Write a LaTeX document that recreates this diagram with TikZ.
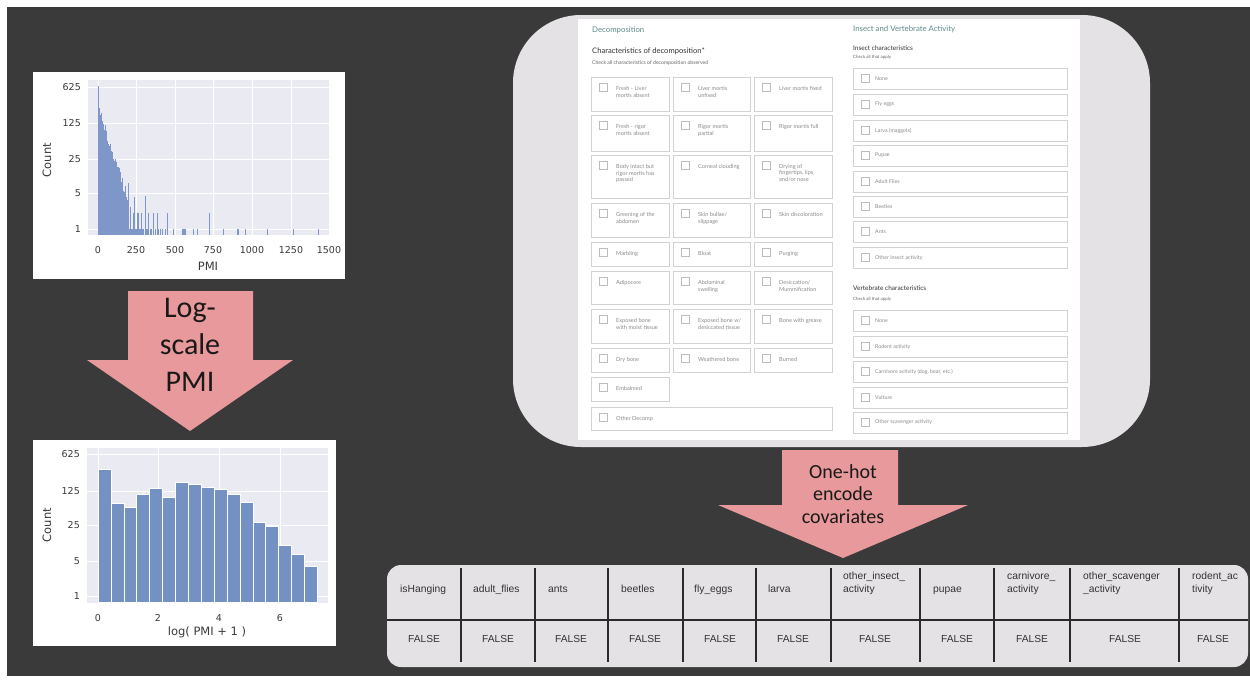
\documentclass[tikz,border=0pt]{standalone}
\usepackage{fontspec}
\setmainfont{Liberation Sans}
\newfontfamily\histfont{DejaVu Sans}
\newfontfamily\arrowfont{Carlito}
\newfontfamily\formfont{Lato}
\newfontfamily\tabfont{Liberation Sans}
\definecolor{bgdark}{HTML}{3A3A3A}
\definecolor{panelc}{HTML}{E5E2E5}
\definecolor{plotbg}{HTML}{EAEAF2}
\definecolor{barone}{HTML}{7F97C8}
\definecolor{bartwo}{HTML}{7491C3}
\definecolor{pinkar}{HTML}{E8999B}
\definecolor{tealc}{HTML}{5E8C8A}
\definecolor{boxline}{HTML}{D2D2D2}
\definecolor{chkline}{HTML}{BDBDBD}
\definecolor{boxtxt}{HTML}{8A8A8A}
\definecolor{tickcol}{HTML}{3A3A3A}
\definecolor{tabline}{HTML}{2A2A2A}
\definecolor{tabtxt}{HTML}{333333}

\newcommand\decobox[6]{%
  \draw[fbx] (#2,#3) rectangle (#4,#5);
  \draw[chk] ({#2+8},{#3+6}) rectangle ({#2+16},{#3+14});
  \node[dtxt] (#1) at ({#2+25},{#3+9}) {#6};
}
\newcommand\insbox[3]{%
  \draw[fbx] (853,#2) rectangle (1067,{#2+21});
  \draw[chk] (861,{#2+6.5}) rectangle (869,{#2+14.5});
  \node[itxt] (#1) at (875,{#2+10.5}) {#3};
}

\begin{document}
\begin{tikzpicture}[x=1pt,y=-1pt,
  gridl/.style={white, line width=0.8},
  ytick/.style={anchor=east, inner sep=0, text=tickcol, font=\histfont\fontsize{9.5}{11}\selectfont},
  xtick/.style={anchor=center, inner sep=0, text=tickcol, font=\histfont\fontsize{9.5}{11}\selectfont},
  axlab/.style={anchor=center, inner sep=0, text=tickcol, font=\histfont\fontsize{11.5}{13}\selectfont},
  atxt/.style={align=center, inner sep=0, text=black!90, font=\arrowfont\fontsize{30}{37}\selectfont},
  btxt/.style={align=center, inner sep=0, text=black!90, font=\arrowfont\fontsize{20}{22.5}\selectfont},
  fbx/.style={draw=boxline, line width=0.5, fill=white},
  chk/.style={draw=chkline, line width=0.5},
  dtxt/.style={anchor=north west, align=left, inner sep=0, text=boxtxt, font=\formfont\fontsize{5.6}{6.7}\selectfont},
  itxt/.style={anchor=west, inner sep=0, text=boxtxt, font=\formfont\fontsize{5.3}{6}\selectfont},
  fhead/.style={anchor=west, inner sep=0, text=tealc, font=\formfont\fontsize{7.8}{9}\selectfont},
  fsub/.style={anchor=west, inner sep=0, text=black!80, font=\formfont\fontsize{6.5}{8}\selectfont},
  fsubbig/.style={fsub, font=\formfont\fontsize{7.6}{9}\selectfont},
  fnote/.style={anchor=west, inner sep=0, text=black!60, font=\formfont\fontsize{4.4}{5}\selectfont},
  fnotebig/.style={fnote, font=\formfont\fontsize{5.1}{6}\selectfont},
  thead/.style={anchor=base west, align=left, inner sep=0, text=tabtxt, font=\tabfont\fontsize{10.3}{13}\selectfont},
  tval/.style={anchor=center, inner sep=0, text=tabtxt, font=\tabfont\fontsize{10.2}{12}\selectfont},
  tline/.style={draw=tabline, line width=1.2}
]
\useasboundingbox (0,0) rectangle (1250,683);
\fill[white] (0,0) rectangle (1250,683);
\fill[bgdark] (7,7) rectangle (1250,676);

% ---------- histogram 1 ----------
\fill[white] (33,72) rectangle (345,279);
\fill[plotbg] (88,80) rectangle (330,235);
\foreach \y in {87,123,159,193,229} \draw[gridl] (88,\y) -- (330,\y);
\foreach \x in {98,136,175,213,252,291,329} \draw[gridl] (\x,80) -- (\x,235);
\fill[barone] (97.5,235) rectangle (98.5,86);
\fill[barone] (98.5,235) rectangle (99.5,108);
\pgfmathsetseed{42}
\foreach \t in {2,...,29}{%
  \pgfmathsetmacro\tp{107.7+3.09*\t+6*rand}
  \fill[barone] ({97.5+\t},235) rectangle ({98.5+\t},\tp);
}
\foreach \x/\tp in {128/183,129/229,130/207,131/229,132/229,133/213,134/197,135/229,136/229,137/213,138/213,139/229,140/229,141/213,142/229,143/229,145/196,146/229,147/229,148/213,150/229,151/229,153/213,155/229,157/213,158/229,160/229,162/229,165/229,167/213,173/229,182/229,183/229,184/229,185/229,193/229,197/229,209/213,223/229,237/229,238/229,245/229,267/229,293/229,318/229}
  \fill[barone] ({\x-0.5},235) rectangle ({\x+0.5},\tp);
\foreach \y/\l in {87/625,123/125,159/25,193/5,229/1} \node[ytick] at (81,\y) {\l};
\foreach \x/\l in {98/0,136/250,175/500,213/750,252/1000,291/1250,329/1500} \node[xtick] at (\x,250) {\l};
\node[axlab] (pmilab) at (208,266) {PMI};
\node[axlab, rotate=90] (cntone) at (47,160) {Count};

% ---------- arrow 1 ----------
\fill[pinkar] (128,291) -- (253,291) -- (253,360) -- (293,360) -- (190,431) -- (87,360) -- (128,360) -- cycle;
\node[atxt] (logscale) at (190,345) {Log-\\scale\\PMI};

% ---------- histogram 2 ----------
\fill[white] (33,440) rectangle (336,646);
\fill[plotbg] (87,448) rectangle (328,603);
\foreach \y in {454,491,525,561,596} \draw[gridl] (87,\y) -- (328,\y);
\foreach \x in {98,158,219,280} \draw[gridl] (\x,448) -- (\x,603);
\foreach \tp [count=\i from 0] in {469.7,503,507,494,488,497,482,484,487,489,494,502,522,526,545,554,566}
  \filldraw[fill=bartwo, draw=white, line width=0.6] ({98+12.9*\i},602) rectangle ({98+12.9*(\i+1)},\tp);
\foreach \y/\l in {454/625,491/125,525/25,561/5,596/1} \node[ytick] at (80,\y) {\l};
\foreach \x/\l in {98/0,158/2,219/4,280/6} \node[xtick] at (\x,618) {\l};
\node[axlab] (loglab) at (207,632) {log( PMI + 1 )};
\node[axlab, rotate=90] (cnttwo) at (47,525) {Count};

% ---------- form panel ----------
\fill[panelc, rounded corners=68] (513,15) rectangle (1150,447);
\fill[white] (578,19) rectangle (1080,440);
\node[fhead] (dechead) at (592,30) {Decomposition};
\node[fsubbig] (decsub) at (592,51) {Characteristics of decomposition*};
\node[fnotebig] (decnote) at (592,63) {Check all characteristics of decomposition observed};

\decobox{d11}{591}{77}{669}{111}{Fresh - Liver\\mortis absent}
\decobox{d12}{673}{77}{750}{111}{Liver mortis\\unfixed}
\decobox{d13}{754}{77}{832}{111}{Liver mortis fixed}
\decobox{d21}{591}{115}{669}{151}{Fresh - rigor\\mortis absent}
\decobox{d22}{673}{115}{750}{151}{Rigor mortis\\partial}
\decobox{d23}{754}{115}{832}{151}{Rigor mortis full}
\decobox{d31}{591}{155}{669}{198}{Body intact but\\rigor mortis has\\passed}
\decobox{d32}{673}{155}{750}{198}{Corneal clouding}
\decobox{d33}{754}{155}{832}{198}{Drying of\\fingertips, lips,\\and/or nose}
\decobox{d41}{591}{203}{669}{237}{Greening of the\\abdomen}
\decobox{d42}{673}{203}{750}{237}{Skin bullae/\\slippage}
\decobox{d43}{754}{203}{832}{237}{Skin discoloration}
\decobox{d51}{591}{242}{669}{266}{Marbling}
\decobox{d52}{673}{242}{750}{266}{Bloat}
\decobox{d53}{754}{242}{832}{266}{Purging}
\decobox{d61}{591}{271}{669}{304}{Adipocere}
\decobox{d62}{673}{271}{750}{304}{Abdominal\\swelling}
\decobox{d63}{754}{271}{832}{304}{Desiccation/\\Mummification}
\decobox{d71}{591}{309}{669}{343}{Exposed bone\\with moist tissue}
\decobox{d72}{673}{309}{750}{343}{Exposed bone w/\\desiccated tissue}
\decobox{d73}{754}{309}{832}{343}{Bone with grease}
\decobox{d81}{591}{348}{669}{372}{Dry bone}
\decobox{d82}{673}{348}{750}{372}{Weathered bone}
\decobox{d83}{754}{348}{832}{372}{Burned}
\decobox{d91}{591}{377}{669}{401}{Embalmed}
\decobox{d101}{591}{407}{832}{430}{Other Decomp}

\node[fhead] (inshead) at (853,29) {Insect and Vertebrate Activity};
\node[fsub] (inssub) at (853,48) {Insect characteristics};
\node[fnote] (insnote) at (853,57.5) {Check all that apply};
\insbox{i1}{68}{None}
\insbox{i2}{94}{Fly eggs}
\insbox{i3}{120}{Larva (maggots)}
\insbox{i4}{145}{Pupae}
\insbox{i5}{171}{Adult Flies}
\insbox{i6}{196}{Beetles}
\insbox{i7}{221}{Ants}
\insbox{i8}{247}{Other insect activity}
\node[fsub] (versub) at (853,288) {Vertebrate characteristics};
\node[fnote] (vernote) at (853,299) {Check all that apply};
\insbox{v1}{310}{None}
\insbox{v2}{336}{Rodent activity}
\insbox{v3}{361}{Carnivore activity (dog, bear, etc.)}
\insbox{v4}{387}{Vulture}
\insbox{v5}{412}{Other scavenger activity}

% ---------- arrow 2 ----------
\fill[pinkar] (782,450) -- (898,450) -- (898,505) -- (968,505) -- (843,558) -- (718,505) -- (782,505) -- cycle;
\node[btxt] (onehot) at (843,494) {One-hot\\encode\\covariates};

% ---------- table ----------
\fill[panelc, rounded corners=14] (387,565) rectangle (1248,667);
\draw[tline] (387,620) -- (1248,620);
\foreach \x in {461,535,608,683,756,831,920,994,1070,1179} \draw[tline] (\x,568) -- (\x,662);
\node[thead] (h1) at (400,592) {isHanging};
\node[thead] (h2) at (473,592) {adult\_flies};
\node[thead] (h3) at (548,592) {ants};
\node[thead] (h4) at (621,592) {beetles};
\node[thead] (h5) at (694,592) {fly\_eggs};
\node[thead] (h6) at (768,592) {larva};
\node[thead] (h7) at (843,592) {other\_insect\_\\activity};
\node[thead] (h8) at (933,592) {pupae};
\node[thead] (h9) at (1007,592) {carnivore\_\\activity};
\node[thead] (h10) at (1083,592) {other\_scavenger\\\_activity};
\node[thead] (h11) at (1192,592) {rodent\_ac\\tivity};
\foreach \cx [count=\i] in {424,498,571,645,720,793,875,957,1032,1125,1213}
  \node[tval] (val\i) at (\cx,639) {FALSE};
\end{tikzpicture}
\end{document}
